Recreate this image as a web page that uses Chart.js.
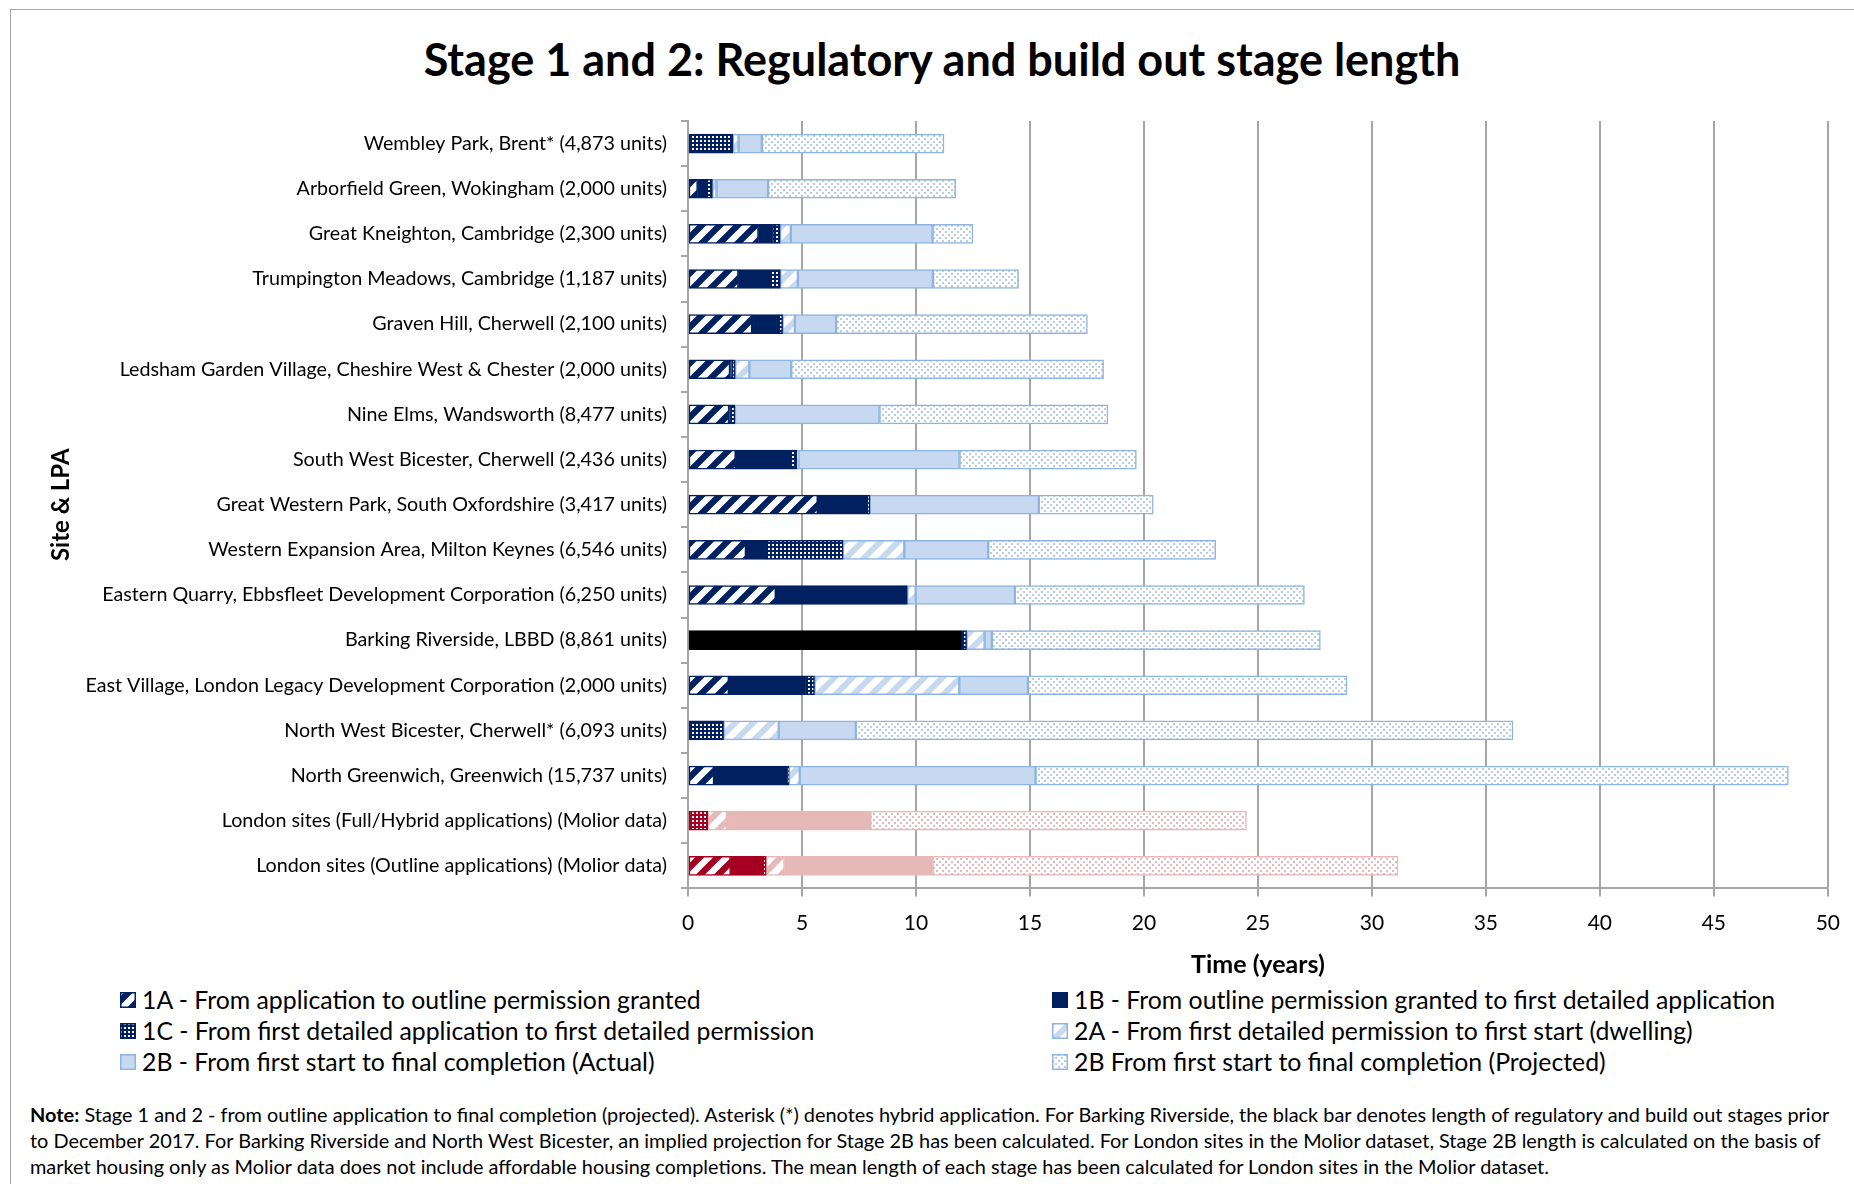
<!DOCTYPE html>
<html><head><meta charset="utf-8"><title>Stage 1 and 2: Regulatory and build out stage length</title>
<script src="https://cdn.jsdelivr.net/npm/chart.js@4.4.1/dist/chart.umd.min.js"></script>
<style>
html,body{margin:0;padding:0;background:#fff;}
body{width:1854px;height:1184px;position:relative;overflow:hidden;font-family:Lato,"Open Sans",sans-serif;color:#000;}
#frame{position:absolute;left:10px;top:9px;width:1900px;height:1200px;border-left:1.5px solid #a6a6a6;border-top:1.5px solid #a6a6a6;}
#title{position:absolute;left:0;top:32px;width:1884px;text-align:center;font-size:45px;font-weight:bold;line-height:54px;white-space:nowrap;}
#c{position:absolute;left:0;top:0;}
.leg{position:absolute;height:30px;line-height:30px;font-size:24.8px;white-space:nowrap;}
.leg canvas{position:absolute;left:0;top:7px;}
.leg span{position:absolute;left:22px;top:0;}
#note{position:absolute;left:30px;top:1101px;font-size:19.9px;line-height:26px;white-space:nowrap;}
</style></head>
<body>
<div id="frame"></div>
<div id="title">Stage 1 and 2: Regulatory and build out stage length</div>
<canvas id="c" width="1854" height="982"></canvas>
<div id="legend"></div>
<div id="note"><b>Note:</b> Stage 1 and 2 - from outline application to final completion (projected). Asterisk (*) denotes hybrid application. For Barking Riverside, the black bar denotes length of regulatory and build out stages prior<br>to December 2017. For Barking Riverside and North West Bicester, an implied projection for Stage 2B has been calculated. For London sites in the Molior dataset, Stage 2B length is calculated on the basis of<br>market housing only as Molior data does not include affordable housing completions. The mean length of each stage has been calculated for London sites in the Molior dataset.</div>
<script>
const categories = [
  "Wembley Park, Brent* (4,873 units)",
  "Arborfield Green, Wokingham (2,000 units)",
  "Great Kneighton, Cambridge (2,300 units)",
  "Trumpington Meadows, Cambridge (1,187 units)",
  "Graven Hill, Cherwell (2,100 units)",
  "Ledsham Garden Village, Cheshire West & Chester (2,000 units)",
  "Nine Elms, Wandsworth (8,477 units)",
  "South West Bicester, Cherwell (2,436 units)",
  "Great Western Park, South Oxfordshire (3,417 units)",
  "Western Expansion Area, Milton Keynes (6,546 units)",
  "Eastern Quarry, Ebbsfleet Development Corporation (6,250 units)",
  "Barking Riverside, LBBD (8,861 units)",
  "East Village, London Legacy Development Corporation (2,000 units)",
  "North West Bicester, Cherwell* (6,093 units)",
  "North Greenwich, Greenwich (15,737 units)",
  "London sites (Full/Hybrid applications) (Molior data)",
  "London sites (Outline applications) (Molior data)"
];
const preDec2017 = [0,0,0,0,0,0,0,0,0,0,0,12.0,0,0,0,0,0];
const stage1A  = [0,0.42,3.09,2.21,2.81,1.84,1.80,2.09,5.69,2.54,3.85,0,1.79,0,1.14,0,1.87];
const stage1B  = [0,0.38,0.62,1.42,1.14,0.10,0.06,2.39,2.17,0.92,5.77,0,3.36,0,3.21,0,1.34];
const stage1C  = [1.97,0.27,0.33,0.42,0.20,0.13,0.20,0.30,0.12,3.34,0,0.22,0.40,1.56,0.08,0.87,0.22];
const stage2A  = [0.25,0.18,0.47,0.77,0.54,0.62,0,0.07,0,2.69,0.37,0.79,6.35,2.42,0.47,0.84,0.80];
const stage2BActual    = [1.02,2.26,6.22,5.92,1.81,1.84,6.34,7.06,7.41,3.68,4.35,0.32,3.01,3.38,10.35,6.29,6.50];
const stage2BProjected = [7.99,8.23,1.77,3.76,11.02,13.70,10.02,7.76,5.02,9.98,12.70,14.41,14.00,28.83,33.02,16.50,20.42];
const xTicks = [0,5,10,15,20,25,30,35,40,45,50];
const legendLabels = [
  "1A - From application to outline permission granted",
  "1B - From outline permission granted to first detailed application",
  "1C - From first detailed application to first detailed permission",
  "2A - From first detailed permission to first start (dwelling)",
  "2B - From first start to final completion (Actual)",
  "2B From first start to final completion (Projected)"
];

const NAVY='#002060', LBLUE='#c6d9f1', LBORDER='#8eb4e3', LDOT='#b8cce4';
const RED='#a50021', PINK='#e6b9b8', PBORDER='#e6b9b8', PDOT='#e6b9b8';

function stripeTile(fg,bg,p,w){const c=document.createElement('canvas');c.width=c.height=p;const g=c.getContext('2d');g.fillStyle=bg;g.fillRect(0,0,p,p);g.strokeStyle=fg;g.lineWidth=w;for(const o of [-p,0,p]){g.beginPath();g.moveTo(o-2,p+2);g.lineTo(o+p+2,-2);g.stroke();}return c;}
function dotTile(fg,bg,p,d,stagger){const c=document.createElement('canvas');c.width=c.height=p;const g=c.getContext('2d');g.fillStyle=bg;g.fillRect(0,0,p,p);g.fillStyle=fg;g.fillRect(0,0,d,d);if(stagger)g.fillRect(p/2,p/2,d,d);return c;}
const pctx=document.createElement('canvas').getContext('2d');
const P=t=>pctx.createPattern(t,'repeat');

const tiles = {
  a:[stripeTile('#ffffff',NAVY,18,6.5), stripeTile('#ffffff',RED,18,6.5)],
  c:[dotTile('#ffffff',NAVY,4,2,false), dotTile('#ffffff',RED,4,2,false)],
  t:[stripeTile(LBLUE,'#ffffff',18,6), stripeTile(PINK,'#ffffff',18,6)],
  p:[dotTile(LDOT,'#ffffff',6,2,true), dotTile(PDOT,'#ffffff',6,2,true)]
};
const isMolior = categories.map(c => c.indexOf('Molior') >= 0);
const per = (b,r) => categories.map((_,i)=> isMolior[i] ? r : b);

const common = {barThickness:19, borderWidth:1.5, borderSkipped:false};
const datasets = [
  Object.assign({label:'Barking Riverside prior to December 2017', data:preDec2017, backgroundColor:'#000000', borderColor:'#000000'}, common),
  Object.assign({label:legendLabels[0], data:stage1A, backgroundColor:per(P(tiles.a[0]),P(tiles.a[1])), borderColor:per(NAVY,RED)}, common),
  Object.assign({label:legendLabels[1], data:stage1B, backgroundColor:per(NAVY,RED), borderColor:per(NAVY,RED)}, common),
  Object.assign({label:legendLabels[2], data:stage1C, backgroundColor:per(P(tiles.c[0]),P(tiles.c[1])), borderColor:per(NAVY,RED)}, common),
  Object.assign({label:legendLabels[3], data:stage2A, backgroundColor:per(P(tiles.t[0]),P(tiles.t[1])), borderColor:per(LBORDER,PBORDER)}, common),
  Object.assign({label:legendLabels[4], data:stage2BActual, backgroundColor:per(LBLUE,PINK), borderColor:per(LBORDER,PBORDER)}, common),
  Object.assign({label:legendLabels[5], data:stage2BProjected, backgroundColor:per(P(tiles.p[0]),P(tiles.p[1])), borderColor:per(LBORDER,PBORDER)}, common)
];

Chart.defaults.font.family = 'Lato, "Open Sans", sans-serif';
Chart.defaults.color = '#000';
const chart = new Chart(document.getElementById('c'), {
  type:'bar',
  data:{labels:categories, datasets:datasets},
  options:{
    indexAxis:'y', responsive:false, animation:false, events:[],
    layout:{padding:{left:10,right:25,top:121,bottom:2.4}},
    plugins:{legend:{display:false}, title:{display:false}, tooltip:{enabled:false}},
    scales:{
      x:{stacked:true, min:0, max:50,
         afterBuildTicks:(s)=>{ s.ticks = xTicks.map(v=>({value:v})); },
         ticks:{font:{size:21}, color:'#000', padding:14},
         grid:{color:'#a6a6a6', lineWidth:2, tickLength:8},
         border:{color:'#a6a6a6', width:2},
         title:{display:true, text:'Time (years)', font:{size:25, weight:'bold'}, color:'#000', padding:{top:0,bottom:0}}},
      y:{stacked:true,
         ticks:{font:{size:19.7}, color:'#000', padding:14},
         grid:{drawOnChartArea:false, tickLength:7, color:'#a6a6a6', lineWidth:2},
         border:{color:'#a6a6a6', width:2},
         title:{display:true, text:'Site & LPA', font:{size:24, weight:'bold'}, color:'#000', padding:{top:36.6,bottom:0}},
         afterFit:(s)=>{ s.width = 678; }}
    }
  }
});

// HTML legend built from the chart's datasets
const legendDiv = document.getElementById('legend');
const colX = [120, 1052], rowY = [1000, 1031, 1062];
const legTiles = [tiles.a[0], null, tiles.c[0], tiles.t[0], null, tiles.p[0]];
chart.data.datasets.slice(1).forEach((ds,i)=>{
  const item = document.createElement('div'); item.className='leg';
  item.style.left = colX[i%2]+'px'; item.style.top = (rowY[Math.floor(i/2)]-15)+'px';
  const sw = document.createElement('canvas'); sw.width=16; sw.height=16;
  const g = sw.getContext('2d');
  const bg = Array.isArray(ds.backgroundColor)?ds.backgroundColor[0]:ds.backgroundColor;
  g.fillStyle = legTiles[i] ? g.createPattern(legTiles[i],'repeat') : bg;
  g.fillRect(0,0,16,16);
  g.strokeStyle = Array.isArray(ds.borderColor)?ds.borderColor[0]:ds.borderColor; g.lineWidth=1.5; g.strokeRect(0.75,0.75,14.5,14.5);
  const t = document.createElement('span'); t.textContent = ds.label;
  item.appendChild(sw); item.appendChild(t); legendDiv.appendChild(item);
});
</script>
</body></html>
